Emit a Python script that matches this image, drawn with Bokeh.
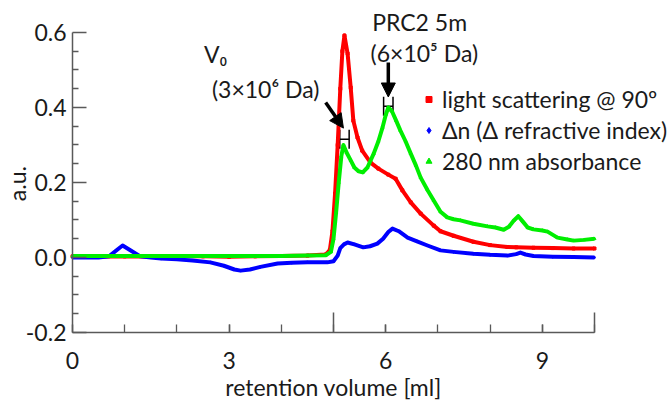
from bokeh.plotting import figure
from bokeh.models import (Range1d, FixedTicker, Label, Arrow, NormalHead, Whisker,
                          ColumnDataSource, Legend, LegendItem, TeeHead, LinearAxis)
from bokeh.embed import file_html
from bokeh.resources import INLINE

# ---- data ----
ls_x = [0, 0.5, 1, 1.5, 2, 2.5, 3, 3.5, 4, 4.5, 4.85, 4.93, 4.98, 5.03, 5.08, 5.13, 5.17, 5.21,
        5.27, 5.33, 5.38, 5.46, 5.55, 5.71, 5.86, 6.05, 6.19, 6.32, 6.48, 6.67, 6.92, 7.05, 7.3,
        7.68, 8.0, 8.33, 8.5, 8.83, 9.2, 9.6, 10.0]
ls_y = [0.003, 0.002, 0.003, 0.002, 0.003, 0.003, 0.002, 0.003, 0.004, 0.005, 0.008, 0.02,
        0.07, 0.17, 0.30, 0.45, 0.55, 0.592, 0.544, 0.453, 0.365, 0.32, 0.285, 0.253, 0.237,
        0.221, 0.21, 0.179, 0.147, 0.117, 0.085, 0.07, 0.058, 0.042, 0.033, 0.028, 0.027,
        0.026, 0.025, 0.024, 0.024]

ri_x = [0, 0.5, 0.7, 0.85, 0.96, 1.1, 1.3, 1.5, 1.7, 2.0, 2.3, 2.64, 2.9, 3.1, 3.22, 3.4, 3.6,
        3.93, 4.2, 4.5, 4.88, 5.0, 5.08, 5.13, 5.2, 5.27, 5.4, 5.57, 5.7, 5.84, 5.95, 6.05,
        6.13, 6.25, 6.42, 6.6, 6.8, 7.05, 7.3, 7.68, 8.0, 8.33, 8.5, 8.58, 8.68, 8.83, 9.2,
        9.6, 10.0]
ri_y = [0.0, 0.0, 0.003, 0.02, 0.032, 0.02, 0.003, 0.0, -0.003, -0.005, -0.008, -0.013,
        -0.022, -0.032, -0.035, -0.032, -0.025, -0.016, -0.014, -0.013, -0.013, -0.01, 0.005,
        0.025, 0.035, 0.04, 0.035, 0.027, 0.03, 0.037, 0.05, 0.068, 0.077, 0.07, 0.053, 0.043,
        0.032, 0.019, 0.015, 0.01, 0.007, 0.005, 0.009, 0.013, 0.008, 0.004, 0.002, 0.001, 0.0]

ab_x = [0, 0.5, 1, 1.5, 2, 2.5, 3, 3.5, 4, 4.5, 4.85, 4.95, 5.0, 5.05, 5.1, 5.15, 5.19, 5.25,
        5.33, 5.4, 5.48, 5.56, 5.65, 5.77, 5.86, 5.94, 6.0, 6.05, 6.12, 6.2, 6.28, 6.38, 6.48,
        6.58, 6.67, 6.8, 6.92, 7.05, 7.18, 7.3, 7.43, 7.68, 7.95, 8.1, 8.26, 8.36, 8.45, 8.54,
        8.62, 8.72, 8.83, 9.0, 9.1, 9.29, 9.48, 9.6, 9.8, 10.0]
ab_y = [0.004, 0.004, 0.004, 0.004, 0.004, 0.004, 0.004, 0.004, 0.004, 0.005, 0.006, 0.015,
        0.05, 0.12, 0.20, 0.27, 0.30, 0.28, 0.259, 0.24, 0.23, 0.227, 0.24, 0.277, 0.31, 0.347,
        0.38, 0.40, 0.39, 0.365, 0.339, 0.31, 0.277, 0.245, 0.213, 0.18, 0.152, 0.122, 0.107,
        0.102, 0.099, 0.09, 0.083, 0.08, 0.074, 0.082, 0.098, 0.11, 0.097, 0.08, 0.075,
        0.072, 0.069, 0.053, 0.048, 0.045, 0.047, 0.05]

x_labels = [0, 3, 6, 9]
x_minor = [1, 2, 3, 4, 5, 6, 7, 8, 9, 10]
x_long = [5, 10]
y_major = [-0.2, 0.0, 0.2, 0.4, 0.6]
y_minor = [-0.15, -0.1, -0.05, 0.05, 0.1, 0.15, 0.25, 0.3, 0.35, 0.45, 0.5, 0.55]

FONT = "Lato"
TXT = "#1a1a1a"
AX = "#595959"

# frame covers the whole canvas; axes are pinned at fixed locations
p = figure(width=672, height=401, output_backend="svg", toolbar_location=None,
           x_range=Range1d(-1.379, 11.494), y_range=Range1d(-0.384, 0.6853),
           min_border=0, x_axis_type=None, y_axis_type=None)
p.grid.visible = False
p.outline_line_color = None


def style(ax):
    ax.axis_line_color = AX
    ax.axis_line_width = 1.5
    ax.major_tick_line_color = AX
    ax.minor_tick_line_color = AX
    ax.major_tick_line_width = 1.5
    ax.minor_tick_line_width = 1.3
    ax.major_label_text_font = FONT
    ax.major_label_text_font_size = "23px"
    ax.major_label_text_color = TXT


xa = LinearAxis(ticker=FixedTicker(ticks=x_labels, minor_ticks=x_minor),
                fixed_location=-0.2, bounds=(0, 10), major_tick_in=8, major_tick_out=0,
                minor_tick_in=8, minor_tick_out=0, major_label_standoff=20)
style(xa)
p.add_layout(xa, "below")

xl = LinearAxis(ticker=FixedTicker(ticks=x_long, minor_ticks=[]),
                fixed_location=-0.2, bounds=(0, 10), major_tick_in=20, major_tick_out=0)
style(xl)
xl.major_label_text_alpha = 0
xl.axis_line_alpha = 0
p.add_layout(xl, "below")

ya = LinearAxis(ticker=FixedTicker(ticks=y_major, minor_ticks=y_minor),
                fixed_location=0, bounds=(-0.2, 0.6), major_tick_in=14, major_tick_out=0,
                minor_tick_in=6, minor_tick_out=0, major_label_standoff=6)
style(ya)
ya.major_label_overrides = {-0.2: "-0.2", 0.0: "0.0", 0.2: "0.2", 0.4: "0.4", 0.6: "0.6"}
p.add_layout(ya, "left")

# curves
p.line(ls_x, ls_y, line_color="#ff0000", line_width=4, line_join="round")
s_ls = p.scatter(ls_x, ls_y, marker="square", size=3, color="#ff0000")
p.line(ri_x, ri_y, line_color="#0000ff", line_width=4, line_join="round")
s_ri = p.scatter(ri_x, ri_y, marker="diamond", size=3, color="#0000ff")
p.line(ab_x, ab_y, line_color="#00ee00", line_width=4, line_join="round")
s_ab = p.scatter(ab_x, ab_y, marker="triangle", size=3, color="#00ee00")

legend = Legend(items=[
    LegendItem(label="light scattering @ 90º", renderers=[s_ls]),
    LegendItem(label="\u0394n (\u0394 refractive index)", renderers=[s_ri]),
    LegendItem(label="280 nm absorbance", renderers=[s_ab]),
], location=(421, 225), label_text_font=FONT, label_text_font_size="23px",
    label_text_color=TXT, glyph_width=15, glyph_height=20, label_height=31,
    label_standoff=6, spacing=0, padding=0, margin=0, border_line_alpha=0,
    background_fill_alpha=0)
p.add_layout(legend)


def lab(x, y, text, size="23px", angle=0):
    p.add_layout(Label(x=x, y=y, text=text, text_font=FONT, text_font_size=size,
                       text_color=TXT, text_align="center", text_baseline="middle",
                       angle=angle))


lab(2.74, 0.543, "V\u2080")
lab(3.70, 0.448, "(3\u00d710\u2076 Da)")
lab(6.65, 0.627, "PRC2 5m")
lab(6.74, 0.545, "(6\u00d710\u2075 Da)")
lab(5.0, -0.345, "retention volume [ml]")
lab(-1.054, 0.197, "a.u.", angle=1.5708)

for xs, ys, xe, ye in [(4.85, 0.413, 5.19, 0.345), (6.05, 0.52, 6.05, 0.428)]:
    p.add_layout(Arrow(end=NormalHead(size=14, fill_color="black", line_color="black"),
                       x_start=xs, y_start=ys, x_end=xe, y_end=ye,
                       line_width=3.5, line_color="black"))

hsrc = ColumnDataSource(data=dict(base=[0.315, 0.403], lower=[5.12, 5.96],
                                  upper=[5.30, 6.14]))
p.add_layout(Whisker(source=hsrc, base="base", lower="lower", upper="upper",
                     dimension="width", line_width=1.5, line_color="black",
                     lower_head=TeeHead(size=19, line_width=1.5, line_color="black"),
                     upper_head=TeeHead(size=19, line_width=1.5, line_color="black")))

open("out.html", "w").write(file_html(p, INLINE))
